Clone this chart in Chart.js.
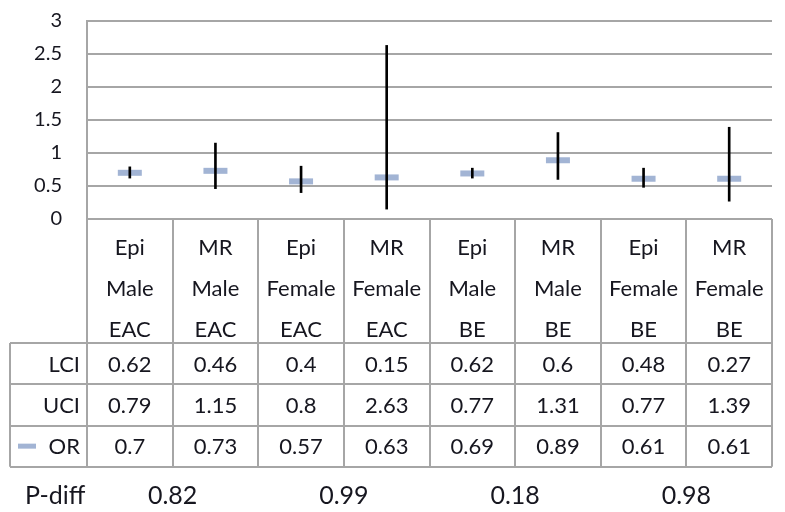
<!DOCTYPE html>
<html>
<head>
<meta charset="utf-8">
<script src="https://cdn.jsdelivr.net/npm/chart.js@4"></script>
<style>
  body { margin: 0; overflow: hidden; background: #fff; }
</style>
</head>
<body>
<canvas id="orChart" width="790" height="512"></canvas>
<script>
const categories = [
  ["Epi", "Male", "EAC"],
  ["MR", "Male", "EAC"],
  ["Epi", "Female", "EAC"],
  ["MR", "Female", "EAC"],
  ["Epi", "Male", "BE"],
  ["MR", "Male", "BE"],
  ["Epi", "Female", "BE"],
  ["MR", "Female", "BE"],
];
const lci = [0.62, 0.46, 0.4, 0.15, 0.62, 0.6, 0.48, 0.27];
const uci = [0.79, 1.15, 0.8, 2.63, 0.77, 1.31, 0.77, 1.39];
const or = [0.7, 0.73, 0.57, 0.63, 0.69, 0.89, 0.61, 0.61];
const pDiff = ["0.82", "0.99", "0.18", "0.98"];
const yTicks = [0, 0.5, 1, 1.5, 2, 2.5, 3];

const gridColor = "#a6a6a6";
const textColor = "#16161f";
const orColor = "#a2b4d4";
const rowH = 41.3;

// data table under the plot, drawn from the x scale positions
const dataTable = {
  id: "dataTable",
  afterDraw(chart) {
    const c = chart.ctx;
    const x = chart.scales.x;
    const top = chart.chartArea.bottom;
    const colW = x.getPixelForValue(1) - x.getPixelForValue(0);
    const left = x.getPixelForValue(0) - colW / 2;
    const right = x.getPixelForValue(categories.length - 1) + colW / 2;
    const headBottom = top + 3 * rowH;
    const bottom = headBottom + 3 * rowH;
    const labelLeft = 10;

    c.save();
    c.strokeStyle = gridColor;
    c.lineWidth = 2;
    c.beginPath();
    for (let i = 0; i <= categories.length; i++) {
      const bx = Math.round(left + i * colW);
      c.moveTo(bx, top);
      c.lineTo(bx, bottom);
    }
    c.moveTo(labelLeft, headBottom);
    c.lineTo(labelLeft, bottom);
    for (let r = 0; r <= 3; r++) {
      const by = Math.round(headBottom + r * rowH);
      c.moveTo(labelLeft, by);
      c.lineTo(right, by);
    }
    c.stroke();

    const rows = [["LCI", lci], ["UCI", uci], ["OR", or]];
    c.fillStyle = textColor;
    c.textBaseline = "middle";
    c.font = "22px Lato";
    rows.forEach(([name, vals], r) => {
      const cy = headBottom + (r + 0.5) * rowH + 1;
      c.textAlign = "right";
      c.fillText(name, 80, cy);
      c.textAlign = "center";
      vals.forEach((v, i) => c.fillText(String(v), x.getPixelForValue(i), cy));
    });

    // legend key for OR
    c.strokeStyle = orColor;
    c.lineWidth = 5;
    c.beginPath();
    const ky = headBottom + 2.5 * rowH;
    c.moveTo(18, ky);
    c.lineTo(36, ky);
    c.stroke();

    // P-diff row
    c.fillStyle = textColor;
    c.font = "25px Lato";
    const py = bottom + 29;
    c.textAlign = "left";
    c.fillText("P-diff", 25, py);
    c.textAlign = "center";
    pDiff.forEach((p, k) => {
      const px = (x.getPixelForValue(2 * k) + x.getPixelForValue(2 * k + 1)) / 2;
      c.fillText(p, px, py);
    });
    c.restore();
  },
};

new Chart(document.getElementById("orChart"), {
  type: "bar",
  data: {
    labels: categories,
    datasets: [
      {
        label: "CI",
        data: lci.map((l, i) => [l, uci[i]]),
        backgroundColor: "#000",
        barThickness: 2,
        order: 0,
      },
      {
        type: "line",
        label: "OR",
        data: or,
        showLine: false,
        pointStyle: "line",
        pointRadius: 12,
        pointHoverRadius: 12,
        pointBorderWidth: 6,
        pointBorderColor: orColor,
        pointBackgroundColor: orColor,
        order: 1,
      },
    ],
  },
  options: {
    responsive: false,
    animation: false,
    layout: { padding: { top: 21, left: 0, right: 0, bottom: 0 } },
    plugins: { legend: { display: false }, tooltip: { enabled: false } },
    scales: {
      x: {
        grid: { display: false },
        border: { display: false },
        ticks: {
          color: textColor,
          padding: 0,
          autoSkip: false,
          maxRotation: 0,
          font: { family: "Lato", size: 22, lineHeight: rowH + "px" },
        },
        afterFit(scale) { scale.height = 293; },
      },
      y: {
        min: 0,
        max: 3,
        afterBuildTicks(scale) { scale.ticks = yTicks.map(v => ({ value: v })); },
        // invisible tick marks keep the labels away from the axis
        grid: { color: gridColor, lineWidth: 2, drawTicks: true, tickLength: 25, tickColor: "rgba(0,0,0,0)" },
        border: { color: gridColor, width: 2 },
        ticks: {
          color: textColor,
          padding: 0,
          font: { family: "Lato", size: 20 },
          callback: v => String(v),
        },
        afterFit(scale) { scale.width = 87; },
      },
    },
  },
  plugins: [dataTable],
});
</script>
</body>
</html>
